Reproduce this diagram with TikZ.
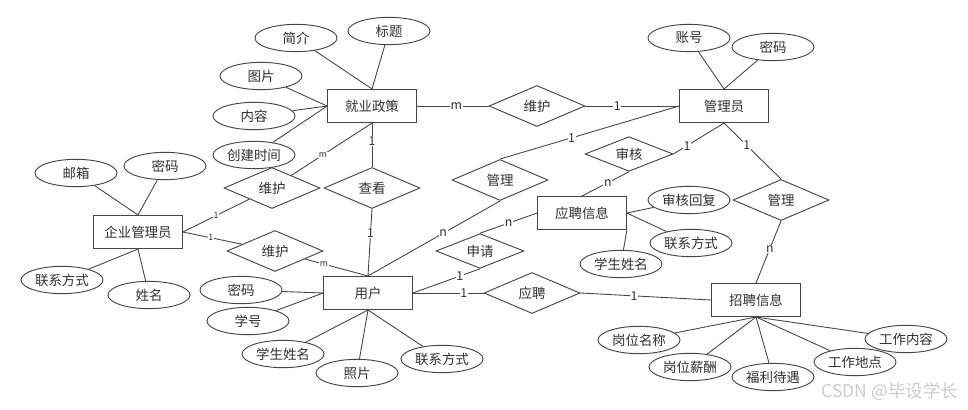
\documentclass[tikz,border=0pt]{standalone}
\usepackage{fontspec}
\setmainfont{Noto Sans CJK SC}
\usepackage{xcolor}
\usepackage{tikz}
\usetikzlibrary{shapes.geometric, positioning}
\definecolor{linec}{HTML}{454545}
\definecolor{textc}{HTML}{303030}

\begin{document}
\begin{tikzpicture}[
  x=0.3mm, y=-0.3mm,
  entity/.style={draw=linec, line width=0.9pt, minimum width=26.6mm, minimum height=9.9mm,
                 inner sep=0pt, text=textc, font=\fontsize{11.5}{13}\selectfont},
  attr/.style={draw=linec, ellipse, line width=0.8pt, minimum width=24.6mm, minimum height=8.2mm,
               inner sep=0pt, text=textc, font=\fontsize{11.5}{13}\selectfont},
  rel/.style={draw=linec, diamond, aspect=2.3, line width=0.8pt, minimum width=28.8mm,
              minimum height=12.3mm, inner sep=0pt, text=textc, font=\fontsize{11.5}{13}\selectfont},
  smallrel/.style={rel, minimum width=26.4mm, minimum height=10.4mm},
  link/.style={draw=linec, line width=0.75pt},
  card/.style={fill=white, inner sep=0.6pt, text=textc, font=\fontsize{10.5}{11}\selectfont},
  smallcard/.style={card, font=\fontsize{7.5}{8}\selectfont}
]
  \useasboundingbox (0,0) rectangle (968,410);

  %% Entities
  \node[entity] (policy) at (372,106) {就业政策};
  \node[entity] (admin) at (724,106) {管理员};
  \node[entity] (corp) at (138,232) {企业管理员};
  \node[entity] (user) at (368,293) {用户};
  \node[entity] (apply) at (582,213) {应聘信息};
  \node[entity] (job) at (756,300) {招聘信息};

  %% Relationships
  \node[rel] (maintA) at (537,106) {维护};
  \node[rel] (maintB) at (272,188) {维护};
  \node[rel] (view) at (372,188) {查看};
  \node[rel] (maintC) at (275,251) {维护};
  \node[rel] (manageA) at (500,180) {管理};
  \node[smallrel] (audit) at (629,154) {审核};
  \node[rel] (manageB) at (781,200) {管理};
  \node[smallrel] (request) at (480,251) {申请};
  \node[rel] (applyfor) at (532,293) {应聘};

  %% Attributes of policy
  \node[attr] (brief) at (296,38) {简介};
  \node[attr] (title) at (389,31) {标题};
  \node[attr] (image) at (261,76) {图片};
  \node[attr] (content) at (254,116) {内容};
  \node[attr] (created) at (254,155) {创建时间};

  %% Attributes of admin
  \node[attr] (account) at (689,38) {账号};
  \node[attr] (adminpw) at (773,47) {密码};

  %% Attributes of corp
  \node[attr] (mail) at (76,173) {邮箱};
  \node[attr] (corppw) at (165,166) {密码};
  \node[attr] (corptel) at (62,280) {联系方式};
  \node[attr] (corpname) at (149,295) {姓名};

  %% Attributes of user
  \node[attr] (userpw) at (241,290) {密码};
  \node[attr] (stuno) at (248,321) {学号};
  \node[attr] (stuname) at (283,354) {学生姓名};
  \node[attr] (photo) at (357,373) {照片};
  \node[attr] (usertel) at (442,359) {联系方式};

  %% Attributes of apply
  \node[attr] (reply) at (689,200) {审核回复};
  \node[attr] (applytel) at (691,243) {联系方式};
  \node[attr] (applyname) at (621,264) {学生姓名};

  %% Attributes of job
  \node[attr] (post) at (639,340) {岗位名称};
  \node[attr] (salary) at (690,367) {岗位薪酬};
  \node[attr] (welfare) at (773,377) {福利待遇};
  \node[attr] (place) at (855,362) {工作地点};
  \node[attr] (duty) at (906,339) {工作内容};

  %% Attribute links
  \draw[link] (brief) -- (policy.north); \draw[link] (title) -- (policy.north);
  \draw[link] (image) -- (policy.west); \draw[link] (content) -- (policy.west);
  \draw[link] (created) -- (policy.west);
  \draw[link] (account) -- (admin.north); \draw[link] (adminpw) -- (admin.north);
  \draw[link] (mail) -- (corp.north); \draw[link] (corppw) -- (corp.north);
  \draw[link] (corptel) -- (corp.south); \draw[link] (corpname) -- (corp.south);
  \draw[link] (userpw) -- (user.west); \draw[link] (stuno) -- (user.west);
  \draw[link] (stuname) -- (user.south); \draw[link] (photo) -- (user.south);
  \draw[link] (usertel) -- (user.south);
  \draw[link] (reply) -- (apply.east); \draw[link] (applytel) -- (apply.east);
  \draw[link] (applyname) -- (apply.south east);
  \draw[link] (post) -- (job.south); \draw[link] (salary) -- (job.south);
  \draw[link] (welfare) -- (job.south); \draw[link] (place) -- (job.south);
  \draw[link] (duty) -- (job.south);

  %% Relationship links
  \draw[link] (policy.east) -- node[card, pos=0.55] {m} (maintA.west);
  \draw[link] (maintA.east) -- node[card, pos=0.34] {1} (admin.west);
  \draw[link] (policy.south) -- node[smallcard, pos=0.61] {m} (maintB);
  \draw[link] (policy.south) -- node[card, pos=0.41] {1} (view.north);
  \draw[link] (corp.east) -- node[smallcard, pos=0.5] {1} (maintB);
  \draw[link] (corp.east) -- node[smallcard, pos=0.47] {1} (maintC);
  \draw[link] (maintC) -- node[smallcard, pos=0.3] {m} (user.north);
  \draw[link] (view.south) -- node[card, pos=0.36] {1} (user.north);
  \draw[link] (manageA.north) -- node[card, pos=0.4] {1} (admin.west);
  \draw[link] (manageA.south) -- node[card, pos=0.43] {n} (user.north);
  \draw[link] (admin.south) -- node[card, pos=0.73] {1} (audit.east);
  \draw[link] (audit.south) -- node[card, pos=0.45] {n} (apply.north);
  \draw[link] (admin.south) -- node[card, pos=0.4] {1} (manageB.north);
  \draw[link] (manageB.south) -- node[card, pos=0.45] {n} (job.north);
  \draw[link] (user.east) -- node[card, pos=0.7] {1} (request.south);
  \draw[link] (request.north) -- node[card, pos=0.5] {n} (apply.west);
  \draw[link] (user.east) -- node[card, pos=0.72] {1} (applyfor.west);
  \draw[link] (applyfor.east) -- node[card, pos=0.41] {1} (job.west);

  %% Watermark
  \node[text=gray!40, font=\fontsize{15}{16}\selectfont] (mark) at (890,392) {CSDN @毕设学长};
\end{tikzpicture}
\end{document}
